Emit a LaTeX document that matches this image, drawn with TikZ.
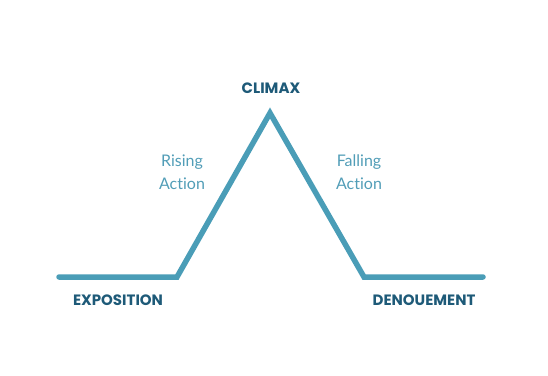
\documentclass[tikz,border=0pt]{standalone}
\usepackage{fontspec}
\setmainfont{Poppins}
\newfontfamily\lightfont[Ligatures=CommonOff]{Lato}
\usepackage{xcolor}
\usetikzlibrary{positioning}
\definecolor{arcLine}{HTML}{4A9DB7}
\definecolor{stageText}{HTML}{1E5A78}
\definecolor{phaseText}{HTML}{519DB7}
\tikzset{
    stageLabel/.style={text=stageText, font=\fontsize{15}{17}\selectfont\bfseries, inner sep=0pt},
    phaseLabel/.style={text=phaseText, font=\lightfont\fontsize{16}{23}\selectfont, align=center, inner sep=0pt},
    arcPath/.style={draw=arcLine, line width=5.5pt, line join=miter, line cap=round}
}

\begin{document}
\begin{tikzpicture}[x=1pt, y=-1pt]
    \useasboundingbox (0,0) rectangle (548,375);
    \coordinate (start) at (59,277);  \coordinate (riseFoot) at (177,277);
    \coordinate (peak) at (270,113);  \coordinate (fallFoot) at (364,277);
    \coordinate (finish) at (483,277);
    \draw[arcPath] (start)--(riseFoot)--(peak)--(fallFoot)--(finish);
    \node[stageLabel] (climax) at (271,88) {CLIMAX};
    \node[stageLabel] (exposition) at (118,300) {EXPOSITION};
    \node[stageLabel] (denouement) at (424,300) {DENOUEMENT};
    \node[phaseLabel] (rising) at (182,172) {Rising\\Action};
    \node[phaseLabel] (falling) at (359,172) {Falling\\Action};
\end{tikzpicture}
\end{document}
